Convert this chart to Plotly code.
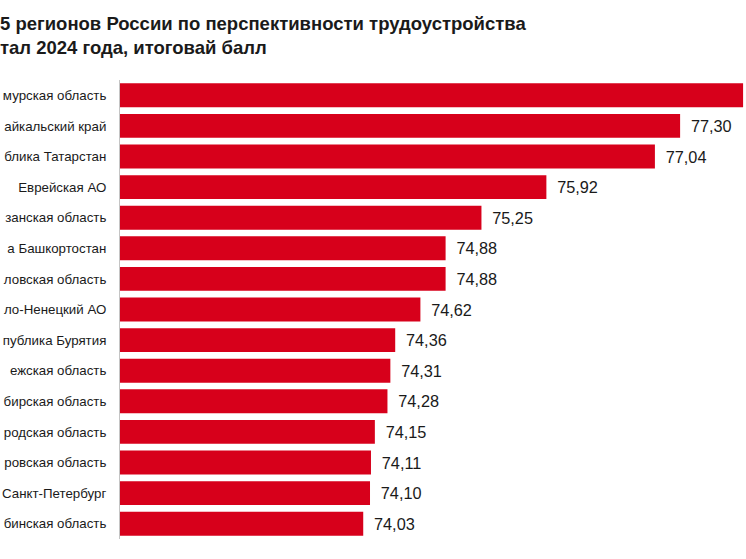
"""Топ регионов по перспективности трудоустройства, Plotly."""

import plotly.graph_objects as go

_RED = "#d7001b"
_TEXT = "#1a1a1a"
_FONT = "Liberation Sans, Arial, sans-serif"

regions = [
    "мурская область",
    "айкальский край",
    "блика Татарстан",
    "Еврейская АО",
    "занская область",
    "а Башкортостан",
    "ловская область",
    "ло-Ненецкий АО",
    "публика Бурятия",
    "ежская область",
    "бирская область",
    "родская область",
    "ровская область",
    "Санкт-Петербург",
    "бинская область",
]
scores = [77.95, 77.30, 77.04, 75.92, 75.25, 74.88, 74.88, 74.62,
          74.36, 74.31, 74.28, 74.15, 74.11, 74.10, 74.03]

title = ("5 регионов России по перспективности трудоустройства<br>"
         "тал 2024 года, итоговай балл")

# подпись первого столбца в оригинале уходит за край картинки
labels = [""] + ["\u00a0\u2009%{x:.2f}"] * (len(scores) - 1)

fig = go.Figure(
    go.Bar(
        x=scores,
        y=regions,
        orientation="h",
        marker=dict(color=_RED, line=dict(width=0)),
        texttemplate=labels,
        textposition="outside",
        textfont=dict(size=16.3, color=_TEXT, family=_FONT),
        cliponaxis=True,
        hoverinfo="skip",
    )
)

fig.update_layout(
    width=746,
    height=559,
    separators=", ",
    paper_bgcolor="white",
    plot_bgcolor="white",
    margin=dict(l=120, r=0, t=80, b=20, autoexpand=False),
    bargap=0.22,
    showlegend=False,
    font=dict(family=_FONT, color=_TEXT),
    title=dict(
        text=title,
        x=0,
        xref="container",
        xanchor="left",
        yref="container",
        y=1 - 29.5 / 559,
        yanchor="middle",
        font=dict(size=18.5, color=_TEXT, family=_FONT, weight="bold"),
    ),
    xaxis=dict(
        range=[71.52, 77.98],
        visible=False,
        fixedrange=True,
    ),
    yaxis=dict(
        autorange="reversed",
        automargin=False,
        showline=True,
        linecolor="#c4c4c4",
        linewidth=1,
        ticks="",
        ticklabelstandoff=10,
        tickfont=dict(size=13.3, color=_TEXT),
        showgrid=False,
        fixedrange=True,
    ),
)

fig.write_html(
    "out.html",
    config={"displayModeBar": False},
    post_script="document.body.style.margin='0';",
)
